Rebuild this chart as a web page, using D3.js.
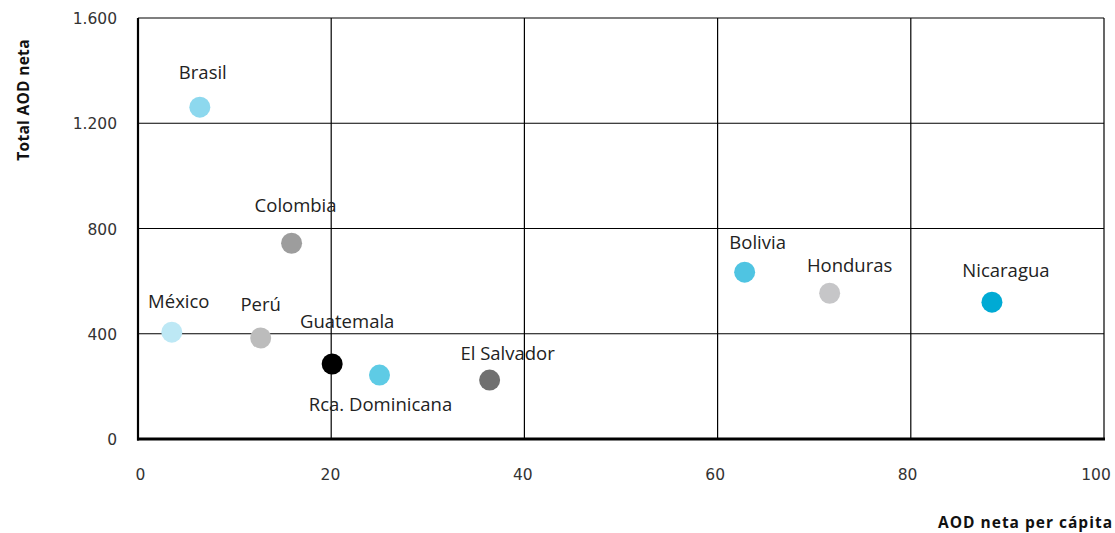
<!DOCTYPE html>
<html><head><meta charset="utf-8">
<script src="https://cdn.jsdelivr.net/npm/d3@7"></script>
<style>body{margin:0;background:#fff}svg{display:block}</style>
</head><body>
<svg id="c" width="1115" height="533"></svg>
<script>
const countries = ["Brasil","Colombia","México","Perú","Guatemala","Rca. Dominicana","El Salvador","Bolivia","Honduras","Nicaragua"];
const perCapita = [6.4, 15.9, 3.5, 12.7, 20.1, 25.0, 36.4, 62.8, 71.6, 88.4];
const totalAOD = [1261, 744, 406, 384, 285, 243, 224, 634, 554, 520];
const colors = ["#8dd8ee","#9d9d9d","#bde8f5","#bcbcbc","#000000","#5ecbe5","#707070","#4fc4e2","#c6c6c8","#00aad4"];
const labelDx = [3, 4, 7, 0, 15, 1, 18, 13, 20, 14];
const labelDy = [-35, -38, -31, -33, -42, 29, -27, -30, -28, -32];
const xTicks = [0,20,40,60,80,100];
const yTicks = [0,400,800,1200,1600];
const yTickLabels = ["0","400","800","1.200","1.600"];

const svg = d3.select("#c");
const m = {l:138, r:1104, t:18, b:439};
const x = d3.scaleLinear().domain([0,100]).range([m.l, m.r]);
const y = d3.scaleLinear().domain([0,1600]).range([m.b, m.t]);
const font = "'Open Sans', sans-serif";
const tickFont = "'DejaVu Sans', sans-serif";

// gridlines
svg.append("g").selectAll("line").data(xTicks.slice(1)).join("line")
  .attr("x1", d=>x(d)).attr("x2", d=>x(d)).attr("y1", m.t).attr("y2", m.b)
  .attr("stroke","#000").attr("stroke-width",1.2);
svg.append("g").selectAll("line").data(yTicks.slice(1)).join("line")
  .attr("x1", m.l).attr("x2", m.r).attr("y1", d=>y(d)).attr("y2", d=>y(d))
  .attr("stroke","#000").attr("stroke-width",1.2);
// axes
svg.append("line").attr("x1",m.l).attr("x2",m.l).attr("y1",m.t).attr("y2",m.b+1.5)
  .attr("stroke","#000").attr("stroke-width",2.2);
svg.append("line").attr("x1",m.l-1).attr("x2",m.r+1).attr("y1",m.b).attr("y2",m.b)
  .attr("stroke","#000").attr("stroke-width",3);

// tick labels
svg.append("g").selectAll("text").data(xTicks).join("text")
  .attr("x", d=>x(d)+(d===100?-8:d===0?2.5:-d*0.04)).attr("y", 480)
  .attr("text-anchor","middle").attr("font-family",tickFont).attr("font-size",15.5)
  .attr("fill","#333").text(d=>d);
svg.append("g").selectAll("text").data(yTicks).join("text")
  .attr("x", 117).attr("y", d=>y(d)+6)
  .attr("text-anchor","end").attr("font-family",tickFont).attr("font-size",15.5)
  .attr("fill","#333").text((d,i)=>yTickLabels[i]);

// axis titles
svg.append("text").attr("x",1113).attr("y",528).attr("text-anchor","end")
  .attr("font-family",font).attr("font-weight",700).attr("font-size",15.5)
  .attr("letter-spacing","1px")
  .attr("fill","#111").text("AOD neta per cápita");
svg.append("text").attr("transform","translate(29,100) rotate(-90)").attr("text-anchor","middle")
  .attr("font-family",font).attr("font-weight",700).attr("font-size",15.5)
  .attr("letter-spacing","0.3px")
  .attr("fill","#111").text("Total AOD neta");

// points
const pts = countries.map((c,i)=>({c, x:perCapita[i], y:totalAOD[i], col:colors[i], dx:labelDx[i], dy:labelDy[i]}));
svg.append("g").selectAll("circle").data(pts).join("circle")
  .attr("cx", d=>x(d.x)).attr("cy", d=>y(d.y)).attr("r",10.5).attr("fill", d=>d.col);
svg.append("g").selectAll("text").data(pts).join("text")
  .attr("x", d=>x(d.x)+d.dx).attr("y", d=>y(d.y)+d.dy).attr("dy","0.35em")
  .attr("text-anchor","middle").attr("font-family",font).attr("font-size",18.5)
  .attr("fill","#222").text(d=>d.c);
</script>
</body></html>
